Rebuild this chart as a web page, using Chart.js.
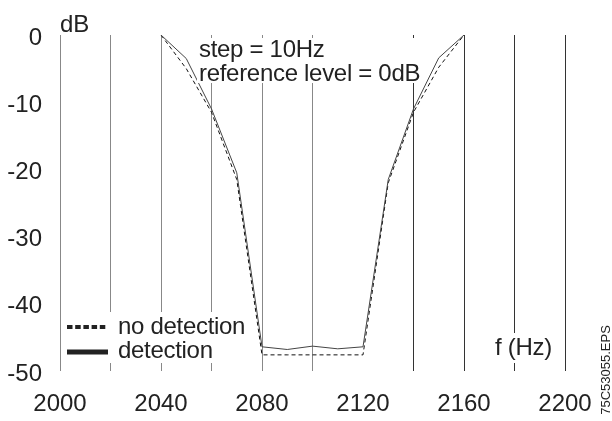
<!DOCTYPE html>
<html>
<head>
<meta charset="utf-8">
<script src="https://cdn.jsdelivr.net/npm/chart.js@4"></script>
<style>
  body { margin: 0; background: #fff; }
  canvas { display: block; }
</style>
</head>
<body>
<canvas id="chart" width="612" height="421"></canvas>
<script>
const freqs = [2040, 2050, 2060, 2070, 2080, 2090, 2100, 2110, 2120, 2130, 2140, 2150, 2160];
const detection = [0, -3.5, -11, -20.5, -46.4, -46.8, -46.3, -46.7, -46.4, -21.5, -11, -3.4, 0];
const noDetection = [0, -5, -11.5, -21.5, -47.6, -47.6, -47.6, -47.6, -47.6, -22, -11.5, -4.8, 0];
const xTickLabels = [2000, 2040, 2080, 2120, 2160, 2200];
const yTickLabels = [0, -10, -20, -30, -40, -50];

const FONT = "'Liberation Sans', Arial, sans-serif";
const TEXT = '#222';

const overlay = {
  id: 'overlay',
  afterDraw(chart) {
    const ctx = chart.ctx;
    ctx.save();
    ctx.font = '24px ' + FONT;
    ctx.textBaseline = 'alphabetic';
    ctx.textAlign = 'left';

    // axis unit label
    ctx.fillStyle = TEXT;
    ctx.fillText('dB', 60, 32);

    // notes
    ctx.fillStyle = '#fff';
    ctx.fillRect(197, 38, 228, 45);
    ctx.fillStyle = TEXT;
    ctx.letterSpacing = '-0.3px';
    ctx.fillText('step = 10Hz', 199, 57);
    ctx.fillText('reference level = 0dB', 199, 81);

    // f (Hz)
    ctx.fillStyle = '#fff';
    ctx.fillRect(493, 333, 62, 30);
    ctx.fillStyle = TEXT;
    ctx.fillText('f (Hz)', 495, 355);

    // legend
    ctx.fillStyle = '#fff';
    ctx.fillRect(63, 312, 188, 51);
    ctx.strokeStyle = '#222';
    ctx.lineWidth = 4;
    ctx.setLineDash([5.5, 2.7]);
    ctx.beginPath();
    ctx.moveTo(67, 327);
    ctx.lineTo(108, 327);
    ctx.stroke();
    ctx.setLineDash([]);
    ctx.lineWidth = 5;
    ctx.beginPath();
    ctx.moveTo(67, 352);
    ctx.lineTo(108, 352);
    ctx.stroke();
    ctx.fillStyle = TEXT;
    ctx.fillText('no detection', 118, 334);
    ctx.fillText('detection', 118, 358);

    // file tag
    ctx.letterSpacing = '0px';
    ctx.font = '13px ' + FONT;
    ctx.translate(606, 370);
    ctx.rotate(-Math.PI / 2);
    ctx.textAlign = 'center';
    ctx.textBaseline = 'middle';
    ctx.fillText('75C53055.EPS', 0, 0);
    ctx.restore();
  }
};

new Chart(document.getElementById('chart'), {
  type: 'line',
  data: {
    datasets: [
      {
        label: 'detection',
        data: freqs.map((f, i) => ({ x: f, y: detection[i] })),
        borderColor: '#444',
        borderWidth: 1,
        pointRadius: 0,
        tension: 0
      },
      {
        label: 'no detection',
        data: freqs.map((f, i) => ({ x: f, y: noDetection[i] })),
        borderColor: '#111',
        borderWidth: 1,
        borderDash: [4, 3],
        pointRadius: 0,
        tension: 0
      }
    ]
  },
  options: {
    responsive: false,
    animation: false,
    devicePixelRatio: 1,
    layout: { padding: { top: 35, right: 47, left: 0, bottom: 0 } },
    plugins: { legend: { display: false }, tooltip: { enabled: false } },
    scales: {
      x: {
        type: 'linear',
        min: 2000,
        max: 2200,
        afterFit: s => { s.height = 50; },
        border: { display: false },
        grid: {
          drawTicks: false,
          lineWidth: 1,
          color: c => {
            const v = c.tick ? c.tick.value : 0;
            if (v === 2120) return 'rgba(0,0,0,0)';
            return v >= 2140 ? '#333' : '#888';
          }
        },
        ticks: {
          stepSize: 20,
          autoSkip: false,
          maxRotation: 0,
          padding: 19,
          color: TEXT,
          font: { family: FONT, size: 24 },
          callback: v => xTickLabels.includes(v) ? String(v) : ''
        }
      },
      y: {
        min: -50,
        max: 0,
        afterFit: s => { s.width = 60; },
        border: { display: false },
        grid: { display: false, drawTicks: false },
        ticks: {
          stepSize: 10,
          padding: 18,
          labelOffset: 3,
          color: TEXT,
          font: { family: FONT, size: 24 },
          callback: v => yTickLabels.includes(v) ? String(v) : ''
        }
      }
    }
  },
  plugins: [overlay]
});
</script>
</body>
</html>
